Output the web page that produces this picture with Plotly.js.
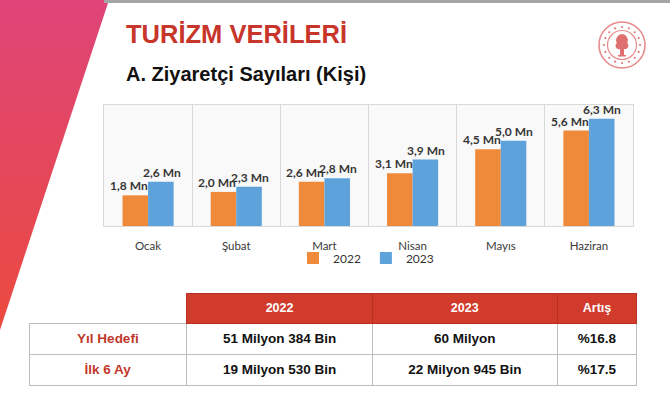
<!DOCTYPE html>
<html>
<head>
<meta charset="utf-8">
<script src="https://cdn.plot.ly/plotly-3.0.1.min.js"></script>
<style>html,body{margin:0;padding:0;background:#fff;}#chart{width:670px;height:397px;}</style>
</head>
<body>
<div id="chart"></div>
<script>
// ---- data ----
const months = ["Ocak", "Şubat", "Mart", "Nisan", "Mayıs", "Haziran"];
const visitors2022 = [1.8, 2.0, 2.6, 3.1, 4.5, 5.6];
const visitors2023 = [2.6, 2.3, 2.8, 3.9, 5.0, 6.3];
const seriesNames = ["2022", "2023"];

const tableRowLabels = ["Yıl Hedefi", "İlk 6 Ay"];
const tableHeader = ["", "2022", "2023", "Artış"];
const col2022 = ["51 Milyon 384 Bin", "19 Milyon 530 Bin"];
const col2023 = ["60 Milyon", "22 Milyon 945 Bin"];
const colIncrease = ["%16.8", "%17.5"];

const titleText = "TURİZM VERİLERİ";
const subtitleText = "A. Ziyaretçi Sayıları (Kişi)";

// ---- helpers ----
const W = 670, H = 397;
const px = v => v / W;
const py = v => 1 - v / H;
const fmt = v => v.toFixed(1).replace(".", ",") + " Mn";

const ORANGE = "#EF8A3B", BLUE = "#5EA2DC";
const LABEL_FONT = {family: "Lato, 'Open Sans', sans-serif", size: 12, color: "#363636"};

const traces = [
  {type: "bar", name: seriesNames[0], x: months, y: visitors2022,
   marker: {color: ORANGE}, hoverinfo: "none"},
  {type: "bar", name: seriesNames[1], x: months, y: visitors2023,
   marker: {color: BLUE}, hoverinfo: "none"},
  {type: "table", domain: {x: [px(29), px(638)], y: [py(396), py(293)]},
   columnwidth: [158, 186, 185, 80],
   header: {
     values: tableHeader.map(t => t ? "<b>" + t + "</b>" : ""),
     align: "center", height: 27,
     fill: {color: ["#FFFFFF", "#D03B2C", "#D03B2C", "#D03B2C"]},
     line: {color: ["#FFFFFF", "#B8301F", "#B8301F", "#B8301F"], width: [0, 1, 1, 1]},
     font: {family: "'Liberation Sans', Arial, sans-serif", size: 12.5, color: "#FFFFFF"}
   },
   cells: {
     values: [tableRowLabels, col2022, col2023, colIncrease].map(c => c.map(t => "<b>" + t + "</b>")),
     align: "center", height: 26,
     fill: {color: "#FFFFFF"},
     line: {color: "#BDBDBD", width: 1},
     font: {family: "'Liberation Sans', Arial, sans-serif", size: 13.5,
            color: ["#C0392B", "#111111", "#111111", "#111111"]}
   }
  }
];

const annotations = [];
months.forEach((m, i) => {
  annotations.push({x: m, y: visitors2022[i], xref: "x", yref: "y", text: "<b>" + fmt(visitors2022[i]) + "</b>",
    showarrow: false, xanchor: "center", yanchor: "bottom", xshift: -19, yshift: 0, font: LABEL_FONT});
  annotations.push({x: m, y: visitors2023[i], xref: "x", yref: "y", text: "<b>" + fmt(visitors2023[i]) + "</b>",
    showarrow: false, xanchor: "center", yanchor: "bottom", xshift: 13.5, yshift: 0, font: LABEL_FONT});
});
annotations.push({x: px(124), y: py(34), xref: "paper", yref: "paper", xanchor: "left", yanchor: "middle",
  text: "<b>" + titleText + "</b>", showarrow: false,
  font: {family: "'Liberation Sans', Arial, sans-serif", size: 25.5, color: "#C8352B"}});
annotations.push({x: px(124), y: py(74), xref: "paper", yref: "paper", xanchor: "left", yanchor: "middle",
  text: "<b>" + subtitleText + "</b>", showarrow: false,
  font: {family: "'Liberation Sans', Arial, sans-serif", size: 20, color: "#111111"}});

const sideSvg = "<svg xmlns='http://www.w3.org/2000/svg' width='120' height='397' viewBox='0 0 120 397'>" +
  "<defs><linearGradient id='g' x1='0' y1='0' x2='0' y2='1'><stop offset='0' stop-color='#DE4478'/>" +
  "<stop offset='1' stop-color='#EB4A3E'/></linearGradient></defs>" +
  "<polygon points='0,0 109,0 0,330' fill='url(#g)'/></svg>";

let dots = "";
for (let k = 0; k < 16; k++) {
  const a = k * Math.PI * 2 / 16;
  dots += "<circle cx='" + (30 + 18 * Math.cos(a)).toFixed(2) + "' cy='" + (30 + 18 * Math.sin(a)).toFixed(2) + "' r='1.1' fill='#E07A7A'/>";
}
const logoSvg = "<svg xmlns='http://www.w3.org/2000/svg' width='60' height='60' viewBox='0 0 60 60'>" +
  "<circle cx='30' cy='30' r='23' fill='none' stroke='#E68C8C' stroke-width='1.6'/>" +
  "<circle cx='30' cy='30' r='14.5' fill='none' stroke='#E68C8C' stroke-width='1.2'/>" + dots +
  "<path d='M30 19 C24 20 23 26 25 28 C22 30 24 35 28 34 L28 40 L32 40 L32 34 C36 35 38 30 35 28 C37 26 36 20 30 19 Z' fill='#E07070'/>" +
  "<rect x='26' y='40' width='8' height='1.5' fill='#E07070'/></svg>";

const layout = {
  width: W, height: H, autosize: false,
  margin: {l: 0, r: 0, t: 0, b: 0},
  paper_bgcolor: "#FFFFFF", plot_bgcolor: "#F9F9F9",
  barmode: "group", bargap: 0.42, bargroupgap: 0,
  showlegend: true,
  legend: {orientation: "h", x: px(366), xanchor: "center", y: py(258), yanchor: "middle",
    font: {family: "Lato, 'Open Sans', sans-serif", size: 12, color: "#333333"},
    itemwidth: 30, traceorder: "normal", bgcolor: "rgba(0,0,0,0)"},
  xaxis: {domain: [px(104), px(633)], type: "category", tickson: "boundaries",
    showgrid: true, gridcolor: "#D9D9D9", gridwidth: 1,
    showline: true, linecolor: "#D9D9D9", mirror: true, ticks: "", ticklabelstandoff: 9,
    tickfont: {family: "Lato, 'Open Sans', sans-serif", size: 11.5, color: "#3A3A3A"}, fixedrange: true},
  yaxis: {domain: [py(226), py(105)], range: [0, 7.1], showticklabels: false, ticks: "",
    showgrid: false, zeroline: false, showline: true, linecolor: "#D9D9D9", mirror: true, fixedrange: true},
  annotations: annotations,
  shapes: [
    {type: "rect", xref: "paper", yref: "paper", x0: px(104), x1: 1, y0: py(3), y1: 1,
     fillcolor: "#A6A6A6", line: {width: 0}, layer: "above"}
  ],
  images: [
    {source: "data:image/svg+xml;charset=utf-8," + encodeURIComponent(sideSvg), xref: "paper", yref: "paper",
     x: 0, y: 1, sizex: px(120), sizey: 1, sizing: "stretch", xanchor: "left", yanchor: "top", layer: "above"},
    {source: "data:image/svg+xml;charset=utf-8," + encodeURIComponent(logoSvg), xref: "paper", yref: "paper",
     x: px(592), y: py(15), sizex: px(60), sizey: 60 / H, sizing: "stretch", xanchor: "left", yanchor: "top", layer: "above"}
  ]
};

Plotly.newPlot("chart", traces, layout, {displayModeBar: false, staticPlot: true});
</script>
</body>
</html>
